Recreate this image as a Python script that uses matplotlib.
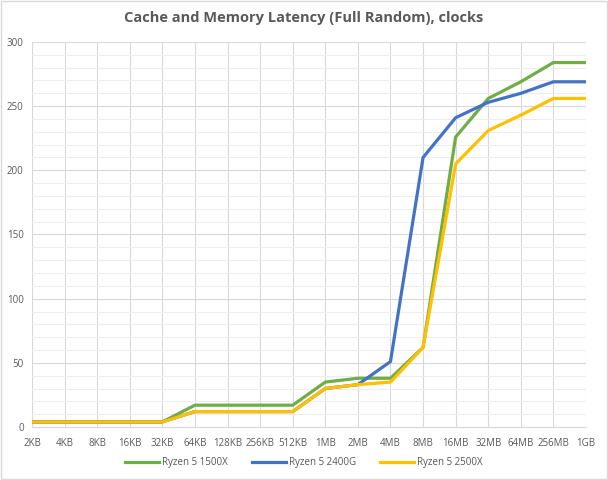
import matplotlib
matplotlib.use("Agg")
import matplotlib.pyplot as plt
from matplotlib.ticker import MultipleLocator

# 数据
sizes = ['2KB', '4KB', '8KB', '16KB', '32KB', '64KB', '128KB', '256KB', '512KB',
         '1MB', '2MB', '4MB', '8MB', '16MB', '32MB', '64MB', '256MB', '1GB']
r5_1500x = [4, 4, 4, 4, 4, 17, 17, 17, 17, 35, 38, 38, 62, 226, 256, 269, 284, 284]
r5_2400g = [4, 4, 4, 4, 4, 12, 12, 12, 12, 30, 33, 51, 210, 241, 253, 260, 269, 269]
r5_2500x = [4, 4, 4, 4, 4, 12, 12, 12, 12, 30, 33, 35, 62, 205, 231, 243, 256, 256]

plt.rcParams['font.family'] = ['Open Sans', 'DejaVu Sans']
txt = '#595959'

fig = plt.figure(figsize=(6.08, 4.8), dpi=100)
ax = fig.add_axes([32 / 608, 53 / 480, 554 / 608, 385 / 480])

x = list(range(len(sizes)))
ax.plot(x, r5_1500x, color='#70AD47', lw=2.3, label='Ryzen 5 1500X')
ax.plot(x, r5_2400g, color='#4472C4', lw=2.3, label='Ryzen 5 2400G')
ax.plot(x, r5_2500x, color='#FFC000', lw=2.3, label='Ryzen 5 2500X')

ax.set_xlim(0, len(sizes) - 1)
ax.set_ylim(0, 300)
ax.set_xticks(x)
ax.set_xticklabels(sizes)
ax.yaxis.set_major_locator(MultipleLocator(50))
ax.yaxis.set_minor_locator(MultipleLocator(10))
ax.grid(True, which='major', color='#D9D9D9', lw=0.8)
ax.grid(True, which='minor', axis='y', color='#EDEDED', lw=0.8)
ax.set_axisbelow(True)
for s in ['top', 'right', 'left']:
    ax.spines[s].set_visible(False)
ax.spines['bottom'].set_color('#D9D9D9')
ax.tick_params(axis='both', which='both', length=0, labelsize=7, colors=txt)
ax.tick_params(axis='x', pad=8)
ax.tick_params(axis='y', pad=6)

fig.text(0.5, 0.962, 'Cache and Memory Latency (Full Random), clocks', ha='center', va='center',
         fontsize=10.5, fontweight='bold', color=txt)

ax.legend(loc='center', bbox_to_anchor=(0.5, 17 / 480), bbox_transform=fig.transFigure,
          ncol=3, frameon=False, fontsize=7, labelcolor=txt, handlelength=3.5,
          columnspacing=2.5, handletextpad=0.3)

fig.patches.append(plt.Rectangle((0.002, 0.002), 0.996, 0.996, transform=fig.transFigure,
                                 fill=False, edgecolor='#D9D9D9', lw=1))

fig.savefig('out.png', dpi=100)
